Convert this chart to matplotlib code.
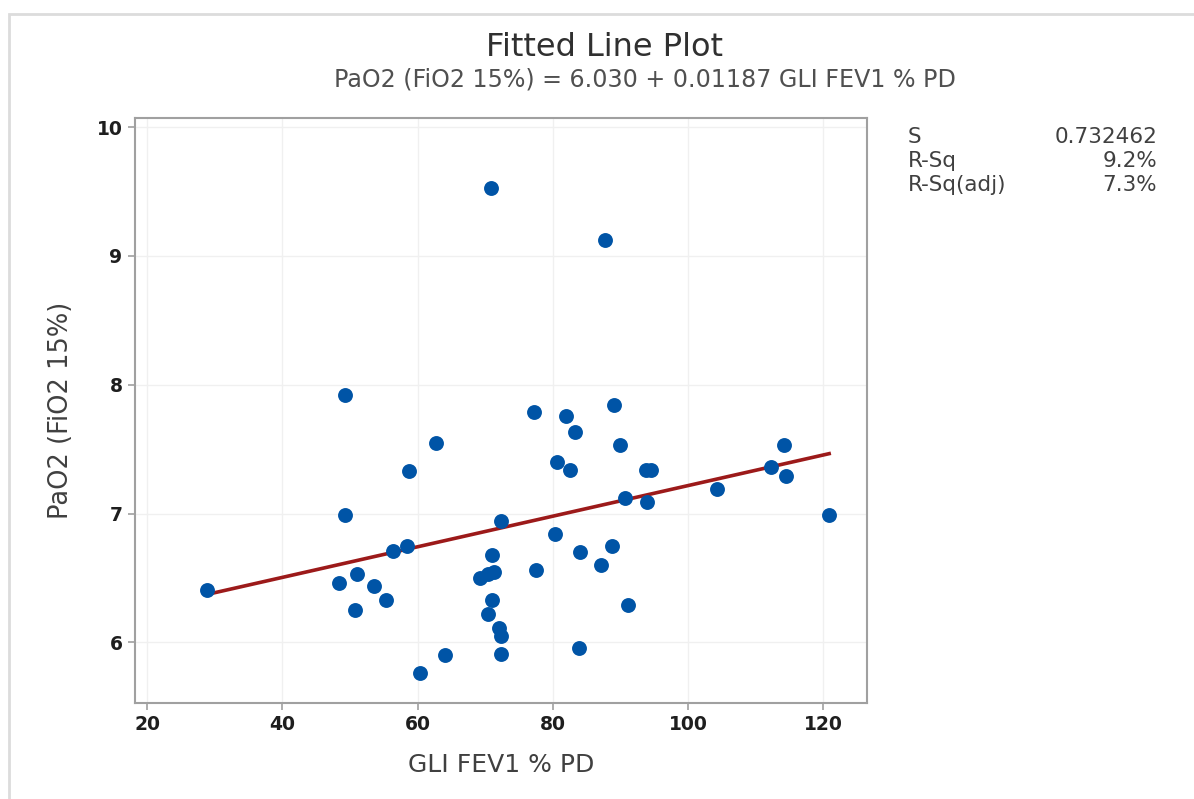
import matplotlib
matplotlib.use("Agg")
import matplotlib.pyplot as plt
import numpy as np
from matplotlib.patches import Rectangle

plt.rcParams["font.family"] = ["DejaVu Sans"]

# values
fev1_pd = [
    28.9, 48.4, 49.2, 49.2, 50.7, 51.0, 53.5, 55.3, 56.4, 58.4,
    58.7, 60.4, 62.7, 64.1, 70.8, 69.3, 70.5, 71.3, 71.0, 71.0,
    70.4, 72.3, 72.1, 72.4, 72.4, 77.2, 77.5, 80.6, 80.4, 81.9,
    82.5, 83.3, 84.0, 83.9, 87.1, 87.7, 88.7, 89.0, 89.9, 90.7,
    91.1, 93.8, 94.5, 93.9, 104.3, 112.3, 114.2, 114.5, 120.9,
]
pao2 = [
    6.41, 6.46, 7.92, 6.99, 6.25, 6.53, 6.44, 6.33, 6.71, 6.75,
    7.33, 5.76, 7.55, 5.90, 9.53, 6.50, 6.53, 6.55, 6.68, 6.33,
    6.22, 6.94, 6.11, 6.05, 5.91, 7.79, 6.56, 7.40, 6.84, 7.76,
    7.34, 7.63, 6.70, 5.96, 6.60, 9.12, 6.75, 7.84, 7.53, 7.12,
    6.29, 7.34, 7.34, 7.09, 7.19, 7.36, 7.53, 7.29, 6.99,
]
intercept = 6.030
slope = 0.01187
stat_labels = ["S", "R-Sq", "R-Sq(adj)"]
stat_values = ["0.732462", "9.2%", "7.3%"]

fig = plt.figure(figsize=(11.94, 7.99), dpi=100)
W, H = 1194, 799
ax = fig.add_axes([135 / W, 1 - 703 / H, (867 - 135) / W, (703 - 118) / H])

# frame of the screenshot
fig.patches.append(Rectangle((9 / W, -0.05), 1.1, 1 - 14 / H + 0.05, transform=fig.transFigure,
                             fill=False, edgecolor="#dcdcdc", linewidth=2))

ax.scatter(fev1_pd, pao2, s=115, color="#0054a6", zorder=3, linewidths=0)
xfit = np.array([min(fev1_pd), max(fev1_pd)])
ax.plot(xfit, intercept + slope * xfit, color="#9c1a1a", linewidth=2.6, zorder=2)

ax.set_xlim(18.2, 126.5)
ax.set_ylim(5.53, 10.07)
ax.set_xticks([20, 40, 60, 80, 100, 120])
ax.set_yticks([6, 7, 8, 9, 10])
ax.grid(color="#f0f0f0", linewidth=1)
ax.set_axisbelow(True)
for sp in ax.spines.values():
    sp.set_color("#a0a0a0")
    sp.set_linewidth(1.5)
ax.tick_params(length=5, width=1.2, color="#a0a0a0", labelsize=13.5, labelcolor="#1e1e1e", pad=4)
for lbl in ax.get_xticklabels() + ax.get_yticklabels():
    lbl.set_fontweight("bold")

ax.set_xlabel("GLI FEV1 % PD", fontsize=18, color="#404040", labelpad=13)
ax.set_ylabel("PaO2 (FiO2 15%)", fontsize=18.5, color="#404040", labelpad=16)

fig.text(605 / W, 1 - 48 / H, "Fitted Line Plot", ha="center", va="center", fontsize=23, color="#303030")
fig.text(645 / W, 1 - 80 / H, "PaO2 (FiO2 15%) = 6.030 + 0.01187 GLI FEV1 % PD",
         ha="center", va="center", fontsize=17.1, color="#505050")

for i, (lab, val) in enumerate(zip(stat_labels, stat_values)):
    y = 1 - (137 + 24 * i) / H
    fig.text(908 / W, y, lab, ha="left", va="center", fontsize=15.5, color="#404040")
    fig.text(1157 / W, y, val, ha="right", va="center", fontsize=15.5, color="#404040")

fig.savefig("out.png", dpi=100, facecolor="white")
